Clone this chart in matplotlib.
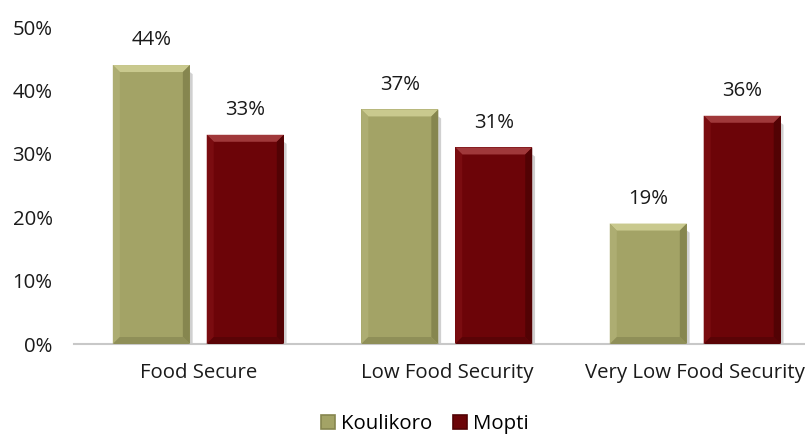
import matplotlib
matplotlib.use("Agg")
import matplotlib.pyplot as plt
import numpy as np
from matplotlib.patches import Polygon
from matplotlib.ticker import FuncFormatter

categories = ["Food Secure", "Low Food Security", "Very Low Food Security"]
series_names = ["Koulikoro", "Mopti"]
koulikoro = [44, 37, 19]
mopti = [33, 31, 36]
yticks = [0, 10, 20, 30, 40, 50]

face_colors = ["#A3A366", "#6C0408"]
top_colors = ["#C9C98E", "#A0383A"]
left_colors = ["#ADAD72", "#7A0C10"]
right_colors = ["#86864F", "#520204"]
bottom_colors = ["#8F8F58", "#5A0306"]

plt.rcParams["font.family"] = ["Open Sans", "DejaVu Sans"]
FS = 14.7

fig = plt.figure(figsize=(8.05, 4.37), dpi=100)
ax = fig.add_axes([0.092, 0.2128, 0.926, 0.7254])

x = np.arange(len(categories))
width = 0.31
offset = 0.189
all_bars = []
for i, (vals, name) in enumerate(zip([koulikoro, mopti], series_names)):
    bars = ax.bar(x + (i - 0.5) * 2 * offset, vals, width=width,
                  color=face_colors[i], label=name, zorder=2)
    all_bars.append(bars)
    for b, v in zip(bars, vals):
        ax.annotate(f"{v}%", (b.get_x() + b.get_width() / 2, b.get_height()),
                    xytext=(0, 10.5), textcoords="offset points",
                    ha="center", va="bottom", fontsize=FS, color="#1a1a1a")

ax.set_xlim(-0.5, len(categories) - 0.5)
ax.set_ylim(0, 50)
fig.canvas.draw()

# bevel edges in pixels, converted to data units
bev_px = 7
inv = ax.transData.inverted()
p0 = inv.transform((0, 0))
p1 = inv.transform((bev_px, bev_px))
bx, by = p1[0] - p0[0], p1[1] - p0[1]

for i, bars in enumerate(all_bars):
    for b in bars:
        x0, w, h = b.get_x(), b.get_width(), b.get_height()
        x1 = x0 + w
        # soft shadow on the right side
        ax.add_patch(Polygon([(x1, 0), (x1, h - by), (x1 + bx * 0.4, h - by * 1.3),
                              (x1 + bx * 0.4, 0)], closed=True,
                             color="#d0d0d0", zorder=1, lw=0))
        pieces = [
            ([(x0, h), (x1, h), (x1 - bx, h - by), (x0 + bx, h - by)], top_colors[i]),
            ([(x0, 0), (x0, h), (x0 + bx, h - by), (x0 + bx, by)], left_colors[i]),
            ([(x1, 0), (x1, h), (x1 - bx, h - by), (x1 - bx, by)], right_colors[i]),
            ([(x0, 0), (x1, 0), (x1 - bx, by), (x0 + bx, by)], bottom_colors[i]),
        ]
        for pts, col in pieces:
            ax.add_patch(Polygon(pts, closed=True, color=col, zorder=3, lw=0))

ax.set_yticks(yticks)
ax.yaxis.set_major_formatter(FuncFormatter(lambda v, p: f"{int(v)}%"))
ax.set_xticks(x)
ax.set_xticklabels(categories)
ax.tick_params(axis="y", length=0, pad=15.5, labelsize=FS, colors="#1a1a1a")
ax.tick_params(axis="x", length=0, pad=14, labelsize=FS, colors="#1a1a1a")

for s in ("left", "right", "top"):
    ax.spines[s].set_visible(False)
ax.spines["bottom"].set_color("#C8C8C8")
ax.spines["bottom"].set_linewidth(1.5)

handles = [plt.Rectangle((0, 0), 1, 1, facecolor=face_colors[i],
                         edgecolor=right_colors[i], lw=1.2) for i in range(2)]
fig.legend(handles, series_names, loc="center", bbox_to_anchor=(425 / 805, 1 - 424 / 437),
           ncol=2, frameon=False, fontsize=FS, handlelength=0.7, handleheight=0.7,
           handletextpad=0.3, columnspacing=1.0)

fig.savefig("out.png", dpi=100)
